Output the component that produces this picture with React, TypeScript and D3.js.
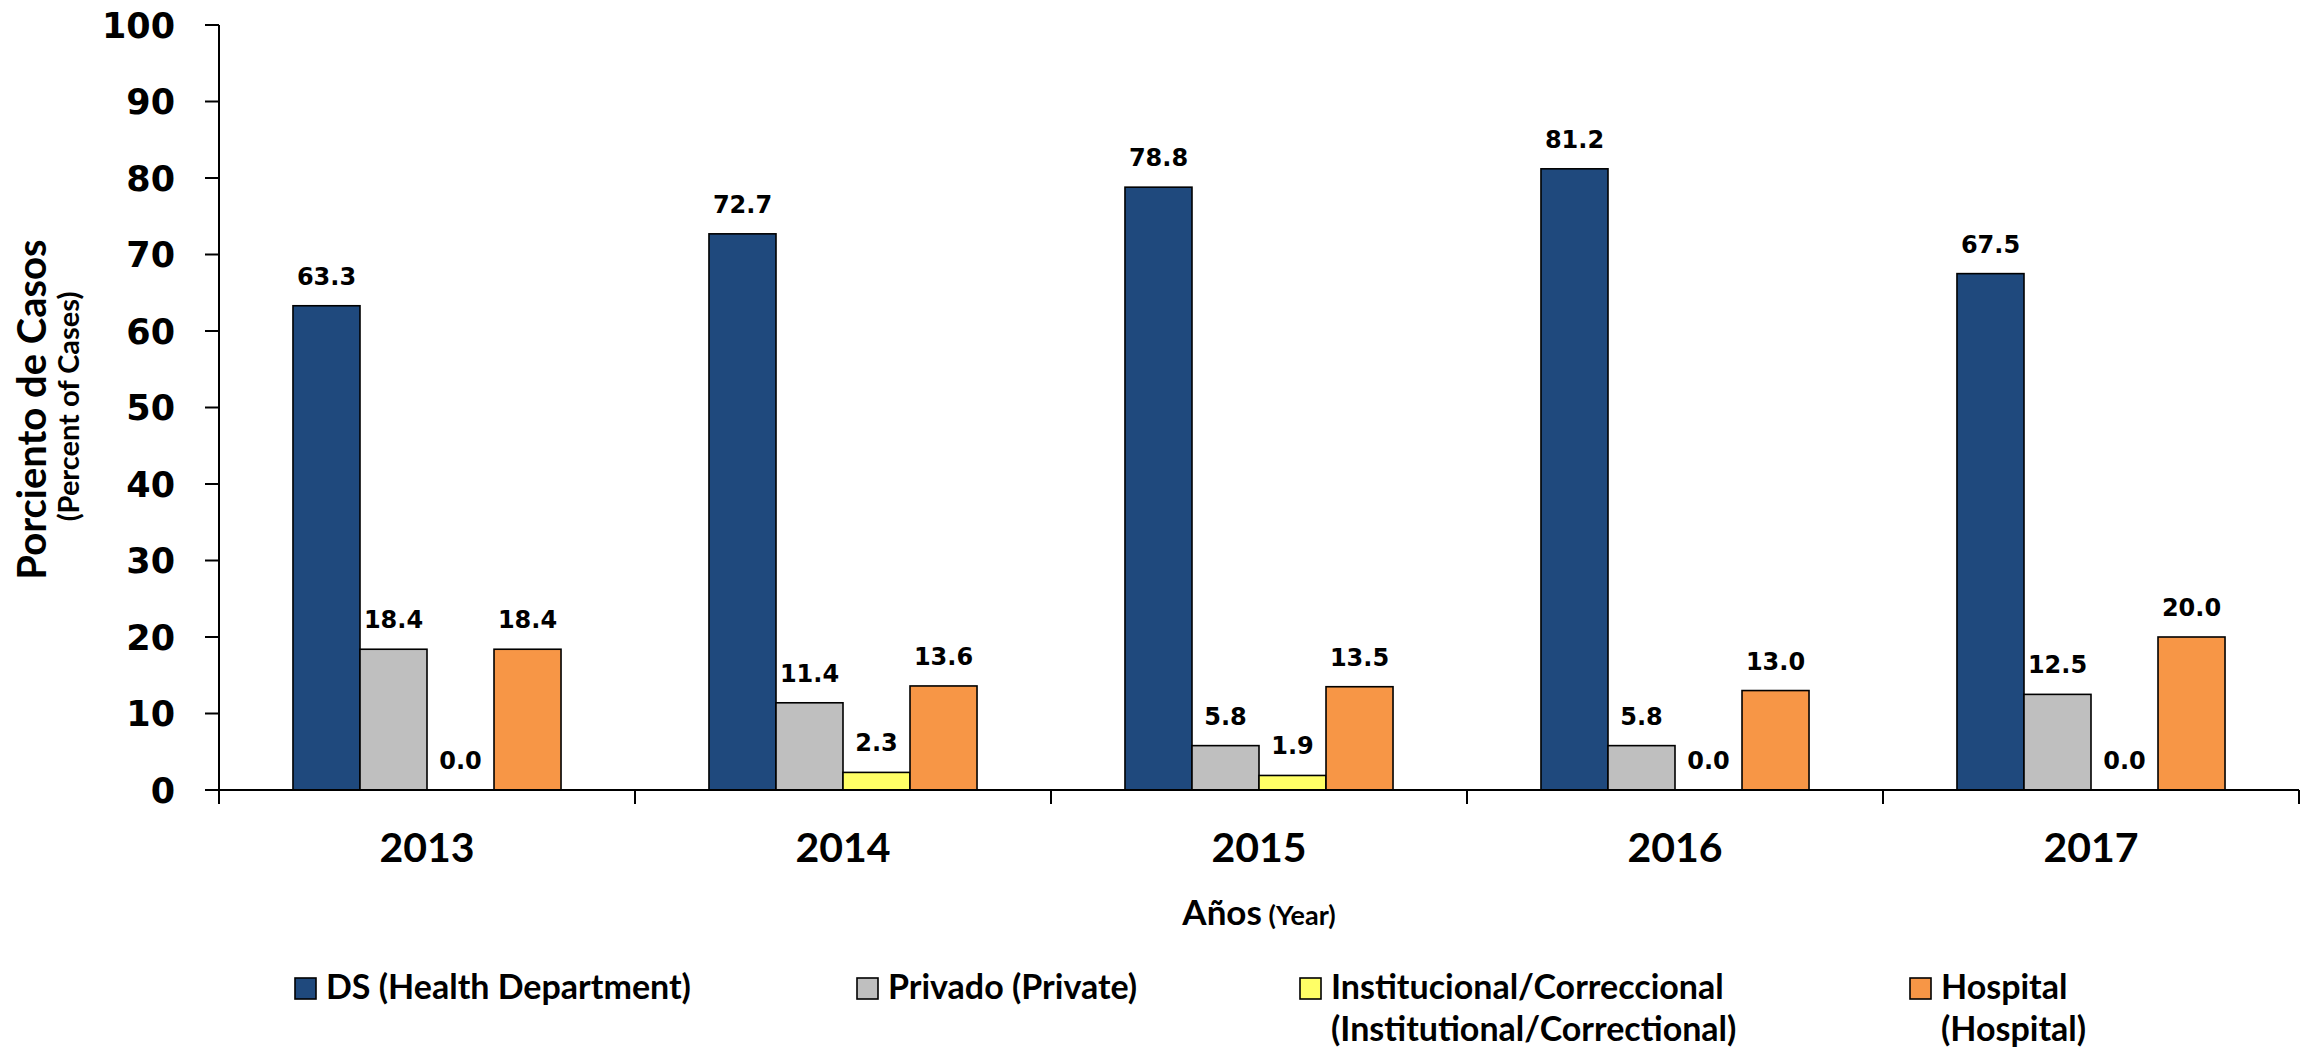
import React from "react";
import * as d3 from "d3";

const years = ["2013", "2014", "2015", "2016", "2017"];
const seriesKeys = ["ds", "privado", "inst", "hospital"];
const dsValues = [63.3, 72.7, 78.8, 81.2, 67.5];
const privadoValues = [18.4, 11.4, 5.8, 5.8, 12.5];
const instValues = [0.0, 2.3, 1.9, 0.0, 0.0];
const hospitalValues = [18.4, 13.6, 13.5, 13.0, 20.0];
const seriesColors = ["#1F497D", "#BFBFBF", "#FFFF66", "#F79646"];
const legendLines = [
  ["DS (Health Department)"],
  ["Privado (Private)"],
  ["Institucional/Correccional", "(Institutional/Correctional)"],
  ["Hospital", "(Hospital)"],
];
const yTicks = [0, 10, 20, 30, 40, 50, 60, 70, 80, 90, 100];

const W = 2318;
const H = 1051;
const plotLeft = 219;
const plotRight = 2299;
const plotTop = 25;
const plotBottom = 790;
const legendX = [295, 857, 1300, 1910];

const CAL = "Lato, 'Open Sans', sans-serif";
const VER = "'DejaVu Sans', Verdana, sans-serif";

export default function App() {
  const valuesBySeries = [dsValues, privadoValues, instValues, hospitalValues];
  const x0 = d3.scaleBand<string>().domain(years).range([plotLeft, plotRight]).padding(0);
  const x1 = d3
    .scaleBand<string>()
    .domain(seriesKeys)
    .range([0, x0.bandwidth()])
    .paddingInner(0)
    .paddingOuter(1.104);
  const y = d3.scaleLinear().domain([0, 100]).range([plotBottom, plotTop]);

  const boundaries = years.map((yr) => x0(yr) as number).concat([plotRight]);

  return (
    <svg
      width={W}
      height={H}
      style={{ position: "absolute", left: 0, top: 0, background: "#fff" }}
    >
      <rect x={0} y={0} width={W} height={H} fill="#fff" />
      {/* bars */}
      {years.map((yr, i) => (
        <g key={yr} transform={`translate(${x0(yr)},0)`}>
          {seriesKeys.map((k, s) => {
            const v = valuesBySeries[s][i];
            const bx = x1(k) as number;
            const bw = x1.bandwidth();
            return (
              <g key={k}>
                {v > 0 && (
                  <rect
                    x={bx}
                    y={y(v)}
                    width={bw}
                    height={y(0) - y(v)}
                    fill={seriesColors[s]}
                    stroke="#000"
                    strokeWidth={1.6}
                  />
                )}
                <text
                  x={bx + bw / 2}
                  y={y(v) - 21}
                  textAnchor="middle"
                  fontFamily={VER}
                  fontWeight="bold"
                  fontSize={24}
                  fill="#000"
                >
                  {v.toFixed(1)}
                </text>
              </g>
            );
          })}
        </g>
      ))}

      {/* y axis */}
      <line x1={plotLeft} x2={plotLeft} y1={plotTop} y2={plotBottom + 14} stroke="#000" strokeWidth={2} />
      {yTicks.map((t) => (
        <g key={t}>
          <line x1={plotLeft - 14} x2={plotLeft} y1={y(t)} y2={y(t)} stroke="#000" strokeWidth={2} />
          <text
            x={175}
            y={y(t)}
            dy="0.36em"
            textAnchor="end"
            fontFamily={VER}
            fontWeight="bold"
            fontSize={35}
            fill="#000"
          >
            {t}
          </text>
        </g>
      ))}

      {/* x axis */}
      <line x1={plotLeft - 14} x2={plotRight} y1={plotBottom} y2={plotBottom} stroke="#000" strokeWidth={2.2} />
      {boundaries.map((bx, i) => (
        <line key={i} x1={bx} x2={bx} y1={plotBottom} y2={plotBottom + 14} stroke="#000" strokeWidth={2} />
      ))}
      {years.map((yr) => (
        <text
          key={yr}
          x={(x0(yr) as number) + x0.bandwidth() / 2}
          y={862}
          textAnchor="middle"
          fontFamily={CAL}
          fontWeight="bold"
          fontSize={41}
          fill="#000"
        >
          {yr}
        </text>
      ))}

      {/* x title */}
      <text x={(plotLeft + plotRight) / 2} y={925} textAnchor="middle" fontFamily={CAL} fontWeight="bold" fill="#000">
        <tspan fontSize={35}>Años</tspan>
        <tspan fontSize={27}> (Year)</tspan>
      </text>

      {/* y title */}
      <text
        transform={`translate(46,${(plotTop + plotBottom) / 2 + 2}) rotate(-90)`}
        textAnchor="middle"
        fontFamily={CAL}
        fontWeight="bold"
        fontSize={40}
        fill="#000"
      >
        Porciento de Casos
      </text>
      <text
        transform={`translate(79,${(plotTop + plotBottom) / 2 - 1}) rotate(-90)`}
        textAnchor="middle"
        fontFamily={CAL}
        fontWeight="bold"
        fontSize={29}
        fill="#000"
      >
        (Percent of Cases)
      </text>

      {/* legend */}
      {legendLines.map((lines, s) => (
        <g key={s}>
          <rect
            x={legendX[s]}
            y={978}
            width={21}
            height={21}
            fill={seriesColors[s]}
            stroke="#000"
            strokeWidth={1.6}
          />
          {lines.map((ln, j) => (
            <text
              key={j}
              x={legendX[s] + 31}
              y={999 + j * 42}
              fontFamily={CAL}
              fontWeight="bold"
              fontSize={34}
              fill="#000"
            >
              {ln}
            </text>
          ))}
        </g>
      ))}
    </svg>
  );
}
